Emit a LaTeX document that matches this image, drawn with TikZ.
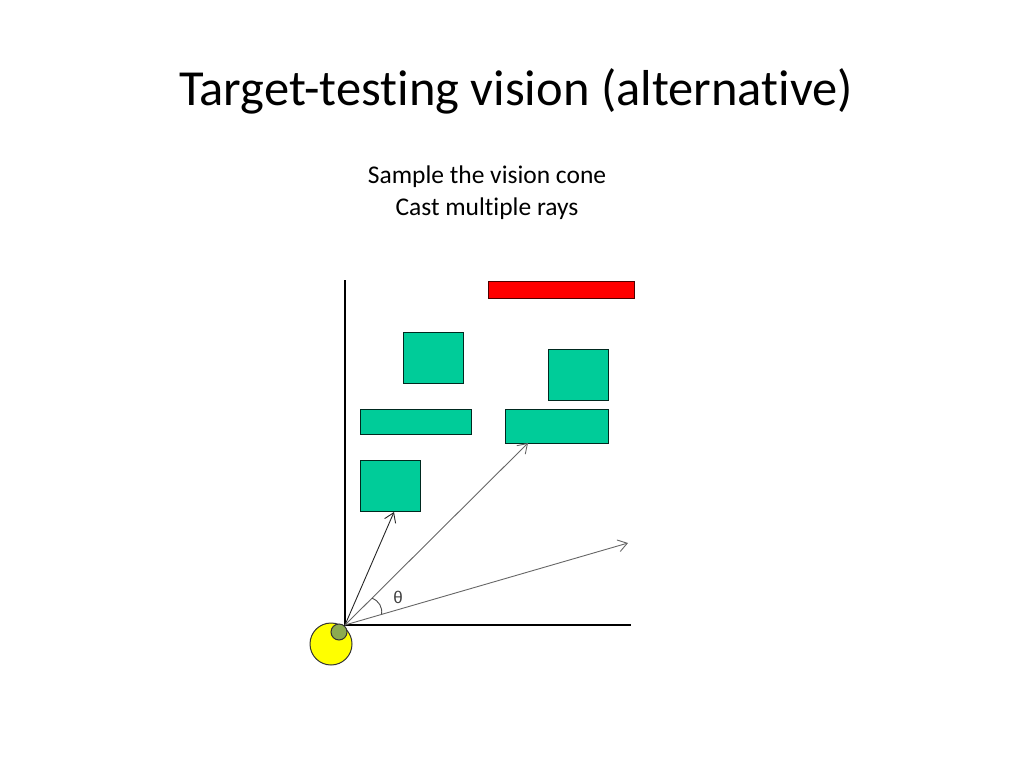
\documentclass[tikz,border=0pt]{standalone}
\usepackage{fontspec}
\setmainfont[Ligatures=NoCommon]{Carlito}
\newfontfamily\greekfont{Liberation Sans}
\usepackage{tikz}
\usetikzlibrary{calc}
\usetikzlibrary{arrows.meta}
\definecolor{boxgreen}{RGB}{0, 204, 153}
\definecolor{wallred}{RGB}{255, 0, 0}
\definecolor{eyeyellow}{RGB}{255, 255, 0}
\definecolor{pupil}{RGB}{140, 170, 80}

\begin{document}
\begin{tikzpicture}[x=1pt, y=-1pt,
    obstacle/.style={fill=boxgreen, draw=black!80!boxgreen, line width=1pt},
    ray/.style={-{Straight Barb[length=9pt, width=12pt, line width=0.9pt]}, draw=black!60, line width=0.9pt}]
        \useasboundingbox (0,0) rectangle (1024,768);
        \node (title) at (516,91) {\fontsize{50.5}{56}\selectfont Target-testing vision (alternative)};
        \node[align=center, font=\fontsize{25.5}{32}\selectfont] (caption) at (487,193) {Sample the vision cone\\Cast multiple rays};
        % axes
        \coordinate (eye)   at (345,625);
        \coordinate (ytop)  at (345,280);
        \coordinate (xend)  at (631,625);
        \draw[line width=1.1pt] (ytop) -- (eye) -- (xend);
        % target and obstacles
        \filldraw[fill=wallred, draw=black!70!wallred, line width=1pt] (488,281) rectangle (634,298);
        \filldraw[obstacle] (403,332) rectangle (463,383);
        \filldraw[obstacle] (548,349) rectangle (608,400);
        \filldraw[obstacle] (360,409) rectangle (471,434);
        \filldraw[obstacle] (505,409) rectangle (608,443);
        \filldraw[obstacle] (360,460) rectangle (420,511);
        % rays
        \coordinate (hitA) at (394,512);
        \coordinate (hitB) at (528,443);
        \coordinate (far)  at (628,543);
        \draw[ray, draw=black!85] (eye) -- (hitA);
        \draw[ray] (eye) -- (hitB);
        \draw[ray] (eye) -- (far);
        \draw[line width=0.9pt, black!70] ($(eye)!38pt!(hitB)$) to[bend left=40] ($(eye)!38pt!(far)$);
        \node[font=\fontsize{17}{17}\selectfont\greekfont, text=black!75] (theta) at (398,597) {θ};
        % viewer
        \filldraw[fill=eyeyellow, draw=black!80, line width=1pt] (331,644) circle (21);
        \filldraw[fill=pupil, draw=black!80, line width=1pt] (339,632) circle (8);
\end{tikzpicture}
\end{document}
